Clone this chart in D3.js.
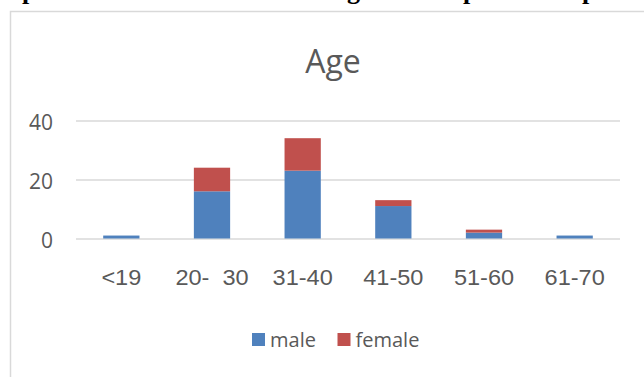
<!DOCTYPE html>
<html><head><meta charset="utf-8">
<script src="https://cdn.jsdelivr.net/npm/d3@7/dist/d3.min.js"></script>
<style>
html,body{margin:0;padding:0;background:#fff;overflow:hidden;}
svg{display:block;}
</style></head>
<body>
<svg id="c" width="644" height="377"></svg>
<script>
const categories = ["<19", "20-  30", "31-40", "41-50", "51-60", "61-70"];
const male = [1, 16, 23, 11, 2, 1];
const female = [0, 8, 11, 2, 1, 0];
const seriesNames = ["male", "female"];
const yTicks = [0, 20, 40];
const title = "Age";

const colors = {male: "#4f81bd", female: "#c0504d"};
const svg = d3.select("#c");

// cropped caption from the page above the chart (only descenders visible)
const frag = [["p", 22], ["g", 347], ["p", 463], ["p", 582]];
svg.selectAll("text.frag").data(frag).join("text")
  .attr("class", "frag")
  .attr("x", d => d[1]).attr("y", -1)
  .attr("font-family", "Liberation Serif").attr("font-weight", "bold")
  .attr("font-size", 26).attr("fill", "#000")
  .text(d => d[0]);

// chart frame
svg.append("rect").attr("x", 10.5).attr("y", 11.5).attr("width", 700).attr("height", 400)
  .attr("fill", "#fff").attr("stroke", "#d9d9d9").attr("stroke-width", 1.5);

const x = d3.scaleBand().domain(categories).range([76, 620]).padding(0);
const y = d3.scaleLinear().domain([0, 40]).range([238.5, 120.5]);

// gridlines + y labels
const ya = svg.append("g").attr("transform", "translate(76,0)")
  .call(d3.axisLeft(y).tickValues(yTicks).tickSize(-544).tickPadding(23));
ya.select(".domain").remove();
ya.selectAll("line").attr("stroke", "#d9d9d9").attr("stroke-width", 1.3);
ya.selectAll("text").attr("font-family", "Open Sans").attr("font-size", 21)
  .attr("fill", "#595959").attr("dy", "0.43em");

// stacked bars
const data = categories.map((c, i) => ({cat: c, male: male[i], female: female[i]}));
const stack = d3.stack().keys(seriesNames)(data);
const bw = x.bandwidth() * 0.4;
svg.append("g").selectAll("g").data(stack).join("g")
  .attr("fill", d => colors[d.key])
  .selectAll("rect").data(d => d).join("rect")
  .attr("x", d => x(d.data.cat) + (x.bandwidth() - bw) / 2)
  .attr("width", bw)
  .attr("y", d => y(d[1]))
  .attr("height", d => y(d[0]) - y(d[1]));

// x labels
const xa = svg.append("g").attr("transform", "translate(0,238.5)")
  .call(d3.axisBottom(x).tickSize(0));
xa.select(".domain").remove();
xa.selectAll("text").attr("y", 46.5).attr("dy", 0)
  .attr("font-family", "Liberation Sans").attr("font-size", 22)
  .attr("fill", "#595959").attr("transform", "scale(1.07,1)")
  .style("white-space", "pre");

// title
svg.append("text").attr("x", 333).attr("y", 72.7).attr("text-anchor", "middle")
  .attr("font-family", "Open Sans").attr("font-size", 32).attr("fill", "#595959")
  .text(title);

// legend
const legX = [252, 337.5];
const lg = svg.append("g").selectAll("g").data(seriesNames).join("g")
  .attr("transform", (d, i) => `translate(${legX[i]},333)`);
lg.append("rect").attr("width", 13).attr("height", 13).attr("fill", d => colors[d]);
lg.append("text").attr("x", 18).attr("y", 13.7)
  .attr("font-family", "Open Sans").attr("font-size", 20).attr("fill", "#595959")
  .text(d => d);
</script>
</body></html>
